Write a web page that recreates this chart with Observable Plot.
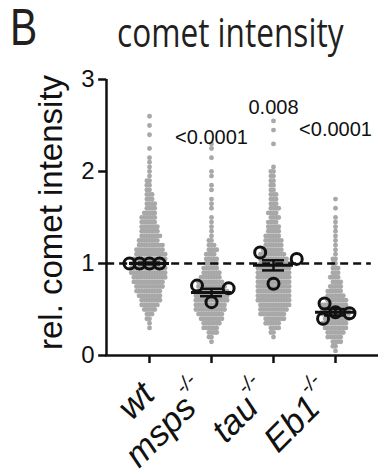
<!DOCTYPE html>
<html>
<head>
<meta charset="utf-8">
<script src="https://cdn.jsdelivr.net/npm/d3@7"></script>
<script src="https://cdn.jsdelivr.net/npm/@observablehq/plot@0.6"></script>
<style>
  html, body { margin: 0; padding: 0; background: #fff; }
  #wrap { position: relative; width: 378px; height: 476px; overflow: hidden; background: #fff; }
  #panel { position: absolute; left: 10px; top: 2px; font-family: "Liberation Sans", Arial, sans-serif; font-size: 51px; line-height: 1; color: #231f20; transform: scaleX(0.8); transform-origin: 0 0; }
  #title { position: absolute; left: 117px; top: 12px; font-family: "Open Sans", sans-serif; font-size: 40px; line-height: 1; color: #231f20; white-space: nowrap; transform: scaleX(0.79); transform-origin: 0 0; }
  #chart { position: absolute; left: 0; top: 60px; }
</style>
</head>
<body>
<div id="wrap">
  <div id="panel">B</div>
  <div id="title">comet intensity</div>
  <div id="chart"></div>
</div>
<script>
// ---------- data ----------
const groups = ["wt", "msps", "tau", "Eb1"];

// value rows of the scatter (rel. comet intensity)
const binValues = [0.05, 0.10, 0.15, 0.20, 0.25, 0.30, 0.35, 0.40, 0.45, 0.50,
                   0.55, 0.60, 0.65, 0.70, 0.75, 0.80, 0.85, 0.90, 0.95, 1.00,
                   1.05, 1.10, 1.15, 1.20, 1.25, 1.30, 1.35, 1.40, 1.45, 1.50,
                   1.55, 1.60, 1.65, 1.70, 1.75, 1.80, 1.85, 1.90, 1.95, 2.00,
                   2.05, 2.10, 2.15, 2.20, 2.25, 2.30, 2.35, 2.40, 2.45, 2.50,
                   2.55, 2.60];
// number of comets per value row, per genotype
const countsWt   = [0,0,0,0,0,1,1,2,3,5,7,8,9,10,11,12,13,14,14,14,13,12,11,10,8,8,7,7,6,6,5,4,4,3,3,2,2,2,1,1,1,1,1,0,1,0,0,1,0,1,0,1];
const countsMsps = [0,0,1,2,4,6,7,9,10,12,12,13,13,12,11,10,8,7,6,5,5,4,4,3,2,1,1,1,1,1,0,1,1,1,0,1,1,0,1,1,0,0,1,0,1,1,0,0,0,0,0,0];
const countsTau  = [0,0,0,1,2,4,6,8,10,11,12,13,13,13,13,13,13,13,13,12,11,10,8,7,7,6,5,5,4,4,4,4,3,3,3,2,2,2,2,2,1,0,0,0,0,1,0,0,1,0,1,0];
const countsEb1  = [1,2,4,6,7,9,10,10,11,11,10,8,7,6,5,4,4,3,3,2,2,1,1,1,1,1,1,1,1,1,0,1,0,1,0,0,0,0,0,0,0,0,0,0,0,0,0,0,0,0,0,0];

// experiment (replicate) means
const repGroup = ["wt", "wt", "wt", "wt", "msps", "msps", "msps", "tau", "tau", "tau", "Eb1", "Eb1", "Eb1", "Eb1"];
const repValue = [1.00, 1.00, 1.00, 1.00, 0.58, 0.76, 0.73, 0.78, 1.12, 1.05, 0.47, 0.565, 0.40, 0.46];

// mean ± SEM of the replicates
const meanValue = [1.00, 0.685, 0.98, 0.47];
const semValue  = [0.01, 0.04, 0.055, 0.035];

// p-value annotations
const pGroup = ["msps", "tau", "Eb1"];
const pText  = ["<0.0001", "0.008", "<0.0001"];
const pY     = [2.30, 2.63, 2.39];

const yTicks = [0, 1, 2, 3];
const refValue = 1;
const yLabel = "rel. comet intensity";
const supText = "-/-";

// ---------- tables ----------
const countsByGroup = {wt: countsWt, msps: countsMsps, tau: countsTau, Eb1: countsEb1};
const cells = [];
for (const g of groups) {
  countsByGroup[g].forEach((n, i) => { for (let k = 0; k < n; k++) cells.push({g, v: binValues[i]}); });
}
const reps = repGroup.map((g, i) => ({g, v: repValue[i]}));
const stats = groups.map((g, i) => ({g, mean: meanValue[i], lo: meanValue[i] - semValue[i], hi: meanValue[i] + semValue[i]}));
const pLabels = pGroup.map((g, i) => ({g, text: pText[i], y: pY[i]}));

// ---------- layout ----------
const W = 378, H = 416, ML = 105, MR = 0, MT = 19, MB = 121;
const FX_PAD = 0.19;
const STEP = (W - ML - MR) / (groups.length + 2 * FX_PAD);
const OUTER = FX_PAD * STEP;
const DASH_END = 370;
const font = "'Liberation Sans', Arial, sans-serif";
const ink = "#111";
const circlePad = {wt: -1, msps: 11, tau: 23, Eb1: 3};
const first = [{g: groups[0]}];
const labelStyle = {frameAnchor: "bottom", rotate: -45, textAnchor: "end", lineAnchor: "bottom",
  dy: 41, fontSize: 35, fontStyle: "italic", fill: ink, fontFamily: font, ariaLabel: "genotype"};

const marks = [
  // gray comet scatter
  Plot.dot(cells, Plot.dodgeX({anchor: "middle", padding: -2.3}, {fx: "g", y: "v", r: 2.45, fill: "#a8a8a8", stroke: "none"})),
  // reference line at 1
  Plot.ruleY(first, {fx: "g", y: () => refValue, stroke: ink, strokeWidth: 2.5, strokeDasharray: "8,5",
    insetLeft: -OUTER, insetRight: -(DASH_END - (ML + OUTER + STEP))}),
  // replicate circles
  ...groups.map(g => Plot.dot(reps.filter(d => d.g === g),
    Plot.dodgeX({anchor: "middle", padding: circlePad[g]}, {fx: "g", y: "v", r: 5.5, fill: "none", stroke: ink, strokeWidth: 3}))),
  // mean and SEM
  Plot.tickY(stats, {fx: "g", y: "mean", stroke: ink, strokeWidth: 3, insetLeft: 11, insetRight: 11}),
  Plot.tickY(stats, {fx: "g", y: "lo", stroke: ink, strokeWidth: 2.5, insetLeft: 20, insetRight: 20}),
  Plot.tickY(stats, {fx: "g", y: "hi", stroke: ink, strokeWidth: 2.5, insetLeft: 20, insetRight: 20}),
  Plot.ruleX(stats, {fx: "g", x: null, y1: "lo", y2: "hi", stroke: ink, strokeWidth: 2.5}),
  // axes lines
  Plot.ruleX(first, {fx: "g", x: null, y1: () => yTicks[0], y2: () => yTicks[yTicks.length - 1], dx: -(OUTER + STEP / 2), stroke: ink, strokeWidth: 2.5}),
  Plot.ruleY(first, {fx: "g", y: () => 0, stroke: ink, strokeWidth: 2.5, insetLeft: -OUTER - 1, insetRight: -(W - (ML + OUTER + STEP))}),
  Plot.axisY({ticks: yTicks, tickFormat: d => String(d), tickSize: 8, tickPadding: 4, fontSize: 24, strokeWidth: 2.5, stroke: ink, fill: ink, dx: -OUTER, label: null, fontFamily: font}),
  Plot.axisFx({anchor: "bottom", tickSize: 8, tickFormat: () => "", strokeWidth: 2.5, stroke: ink, label: null}),
  // genotype labels
  Plot.text(groups.slice(0, 1), {fx: d => d, text: d => d, dx: 7, ...labelStyle}),
  Plot.text(groups.slice(1), {fx: d => d, text: d => d, dx: 0, ...labelStyle}),
  // y label
  Plot.text(first, {fx: "g", text: () => yLabel, frameAnchor: "left", rotate: -90, textAnchor: "middle", lineAnchor: "middle",
    dx: -(OUTER + 55), dy: -5, fontSize: 33, fill: ink, fontFamily: font}),
  // p values
  Plot.text(pLabels, {fx: "g", y: "y", text: "text", lineAnchor: "bottom", textAnchor: "middle", fontSize: 20, fill: ink, fontFamily: font})
];

const chart = Plot.plot({
  width: W, height: H,
  marginLeft: ML, marginRight: MR, marginTop: MT, marginBottom: MB,
  style: {fontFamily: font, background: "white", color: ink, overflow: "visible"},
  fx: {domain: groups, paddingInner: 0, paddingOuter: FX_PAD, label: null},
  y: {domain: [0, 3], label: null},
  marks
});

// superscript -/- after the mutant genotype names
const mutants = new Set(groups.slice(1));
chart.querySelectorAll("text").forEach(t => {
  if (t.childNodes.length === 1 && t.firstChild.nodeType === 3 && mutants.has(t.textContent.trim())) {
    const s = document.createElementNS("http://www.w3.org/2000/svg", "tspan");
    s.setAttribute("font-size", "20");
    s.setAttribute("dy", "-21");
    s.textContent = supText;
    t.appendChild(s);
  }
});

document.getElementById("chart").appendChild(chart);
</script>
</body>
</html>
